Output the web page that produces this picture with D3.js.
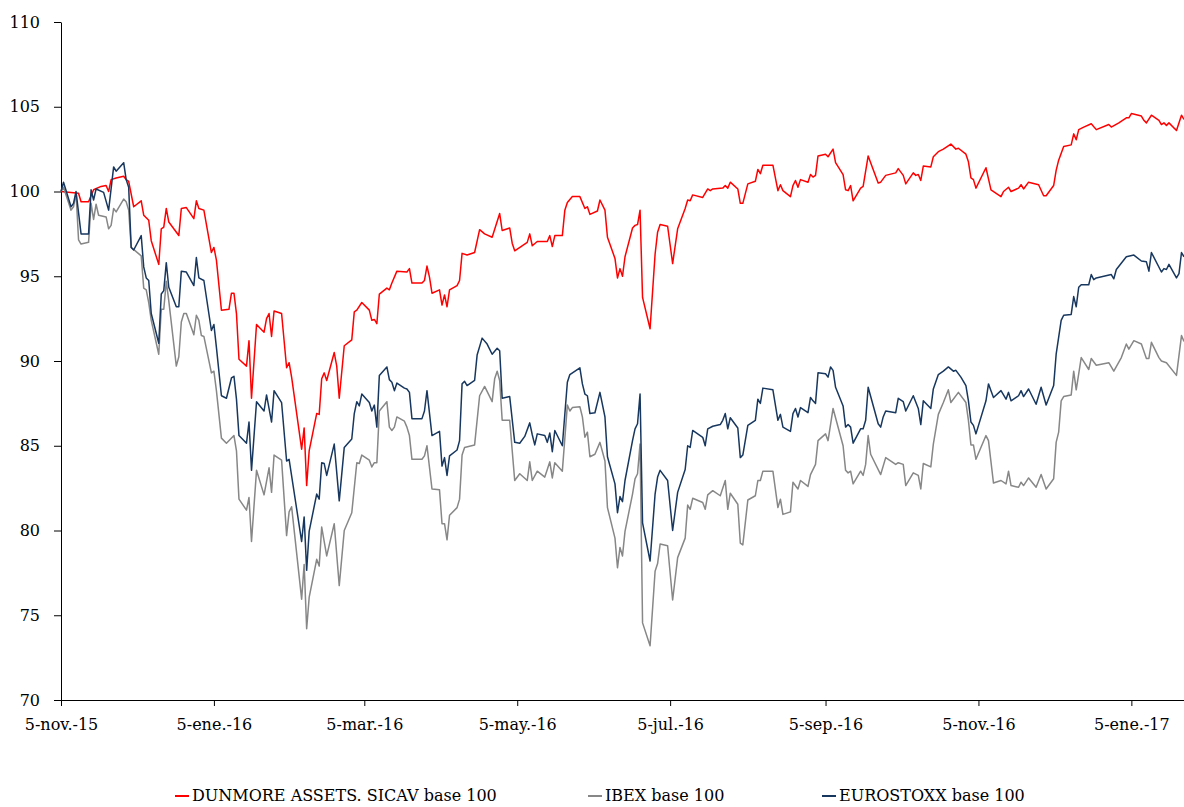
<!DOCTYPE html>
<html>
<head>
<meta charset="utf-8">
<script src="https://cdn.jsdelivr.net/npm/d3@7"></script>
<style>
  body { margin: 0; background: #fff; }
</style>
</head>
<body>
<div id="chart-container"></div>
<script>
// series names and colours
const seriesNames = ["DUNMORE ASSETS. SICAV base 100", "IBEX base 100", "EUROSTOXX base 100"];
const seriesColors = ["#ff0000", "#878787", "#17375e"];

// y axis ticks
const yTicks = [70, 75, 80, 85, 90, 95, 100, 105, 110];

// x axis ticks (every two months, on the 5th)
const xTickDates = ["2015-11-05", "2016-01-05", "2016-03-05", "2016-05-05", "2016-07-05", "2016-09-05", "2016-11-05", "2017-01-05"];
const xTickLabels = ["5-nov.-15", "5-ene.-16", "5-mar.-16", "5-may.-16", "5-jul.-16", "5-sep.-16", "5-nov.-16", "5-ene.-17"];

const dateStart = "2015-11-05";
const dateEnd = "2017-01-26";

// DUNMORE ASSETS. SICAV base 100
const dunmore = [
  ["2015-11-05",100.0],["2015-11-12",99.9],["2015-11-13",99.4],["2015-11-16",99.4],["2015-11-18",100.1],["2015-11-21",100.3],
  ["2015-11-23",100.35],["2015-11-24",100.0],["2015-11-25",100.7],["2015-11-27",100.8],["2015-11-30",100.9],["2015-12-01",100.7],
  ["2015-12-02",100.6],["2015-12-04",99.1],["2015-12-07",99.45],["2015-12-08",98.6],["2015-12-10",98.3],["2015-12-11",97.1],
  ["2015-12-14",95.7],["2015-12-15",97.8],["2015-12-16",97.9],["2015-12-17",99.0],["2015-12-18",98.2],["2015-12-22",97.4],
  ["2015-12-23",99.0],["2015-12-25",99.05],["2015-12-28",98.4],["2015-12-29",99.45],["2015-12-30",99.0],["2016-01-01",98.9],
  ["2016-01-04",96.4],["2016-01-05",96.7],["2016-01-06",95.95],["2016-01-08",93.0],["2016-01-11",93.05],["2016-01-12",94.0],
  ["2016-01-13",94.0],["2016-01-14",92.8],["2016-01-15",90.1],["2016-01-18",89.7],["2016-01-19",91.2],["2016-01-20",87.8],
  ["2016-01-22",92.15],["2016-01-25",91.7],["2016-01-26",92.5],["2016-01-27",92.8],["2016-01-28",91.45],["2016-01-29",92.95],
  ["2016-02-01",92.8],["2016-02-03",89.6],["2016-02-04",89.9],["2016-02-05",89.05],["2016-02-09",84.8],["2016-02-10",86.05],
  ["2016-02-11",82.65],["2016-02-12",84.7],["2016-02-15",86.9],["2016-02-16",86.85],["2016-02-17",88.95],["2016-02-18",89.3],
  ["2016-02-19",88.85],["2016-02-22",90.5],["2016-02-23",89.7],["2016-02-24",87.8],["2016-02-26",90.9],["2016-02-29",91.25],
  ["2016-03-01",92.9],["2016-03-02",93.0],["2016-03-04",93.45],["2016-03-07",93.0],["2016-03-08",92.4],["2016-03-09",92.45],
  ["2016-03-10",92.2],["2016-03-11",93.95],["2016-03-14",94.3],["2016-03-15",94.2],["2016-03-16",94.6],["2016-03-18",95.3],
  ["2016-03-22",95.25],["2016-03-23",95.45],["2016-03-24",94.6],["2016-03-28",94.6],["2016-03-29",94.75],["2016-03-30",95.6],
  ["2016-03-31",94.95],["2016-04-01",94.0],["2016-04-04",94.2],["2016-04-05",93.3],["2016-04-06",93.9],["2016-04-07",93.2],
  ["2016-04-08",94.2],["2016-04-11",94.45],["2016-04-12",94.75],["2016-04-13",96.35],["2016-04-15",96.25],["2016-04-18",96.4],
  ["2016-04-20",97.75],["2016-04-22",97.5],["2016-04-25",97.3],["2016-04-28",98.7],["2016-04-29",97.7],["2016-05-02",97.85],
  ["2016-05-03",96.95],["2016-05-04",96.5],["2016-05-09",97.0],["2016-05-10",97.5],["2016-05-11",96.8],["2016-05-13",97.05],
  ["2016-05-17",97.05],["2016-05-18",97.4],["2016-05-19",96.75],["2016-05-20",97.4],["2016-05-23",97.4],["2016-05-24",98.9],
  ["2016-05-25",99.35],["2016-05-27",99.7],["2016-05-30",99.7],["2016-06-01",99.0],["2016-06-02",99.1],["2016-06-03",98.65],
  ["2016-06-06",98.85],["2016-06-07",99.5],["2016-06-09",98.9],["2016-06-10",97.3],["2016-06-13",96.05],["2016-06-14",94.9],
  ["2016-06-15",95.45],["2016-06-16",95.0],["2016-06-17",96.15],["2016-06-20",97.85],["2016-06-21",98.0],["2016-06-22",98.05],
  ["2016-06-23",98.9],["2016-06-24",93.75],["2016-06-27",91.9],["2016-06-29",96.3],["2016-06-30",97.6],["2016-07-01",98.05],
  ["2016-07-04",97.95],["2016-07-06",95.75],["2016-07-08",97.8],["2016-07-11",99.0],["2016-07-12",99.5],["2016-07-13",99.45],
  ["2016-07-14",99.8],["2016-07-18",99.65],["2016-07-20",100.15],["2016-07-21",100.05],["2016-07-22",100.15],["2016-07-26",100.2],
  ["2016-07-27",100.35],["2016-07-28",100.2],["2016-07-29",100.55],["2016-08-01",100.15],["2016-08-02",99.3],["2016-08-03",99.3],
  ["2016-08-05",100.45],["2016-08-08",100.6],["2016-08-09",101.3],["2016-08-10",101.05],["2016-08-11",101.55],["2016-08-15",101.55],
  ["2016-08-17",100.05],["2016-08-18",100.4],["2016-08-19",100.05],["2016-08-22",99.7],["2016-08-23",100.35],["2016-08-24",100.65],
  ["2016-08-25",100.25],["2016-08-26",100.7],["2016-08-29",100.55],["2016-08-30",101.0],["2016-08-31",100.85],["2016-09-01",100.95],
  ["2016-09-02",102.1],["2016-09-05",102.2],["2016-09-06",102.05],["2016-09-08",102.5],["2016-09-09",101.7],["2016-09-12",101.0],
  ["2016-09-13",100.1],["2016-09-14",100.05],["2016-09-15",100.35],["2016-09-16",99.45],["2016-09-19",100.2],["2016-09-20",100.3],
  ["2016-09-22",102.1],["2016-09-26",100.5],["2016-09-27",100.55],["2016-09-29",100.95],["2016-10-03",101.1],["2016-10-04",101.35],
  ["2016-10-06",100.95],["2016-10-07",100.45],["2016-10-10",101.1],["2016-10-11",100.95],["2016-10-12",101.0],["2016-10-13",100.65],
  ["2016-10-14",101.5],["2016-10-17",101.45],["2016-10-18",102.05],["2016-10-20",102.35],["2016-10-22",102.5],["2016-10-25",102.8],
  ["2016-10-27",102.5],["2016-10-28",102.55],["2016-10-31",102.2],["2016-11-01",101.75],["2016-11-02",100.8],["2016-11-03",100.7],
  ["2016-11-04",100.2],["2016-11-08",101.4],["2016-11-10",100.1],["2016-11-14",99.7],["2016-11-15",100.0],["2016-11-17",100.25],
  ["2016-11-18",100.0],["2016-11-21",100.2],["2016-11-22",100.4],["2016-11-23",100.15],["2016-11-25",100.55],["2016-11-29",100.4],
  ["2016-12-01",99.75],["2016-12-02",99.75],["2016-12-05",100.35],["2016-12-06",101.25],["2016-12-07",101.85],["2016-12-09",102.65],
  ["2016-12-12",102.75],["2016-12-13",103.4],["2016-12-14",103.05],["2016-12-15",103.65],["2016-12-17",103.8],["2016-12-20",104.0],
  ["2016-12-22",103.65],["2016-12-27",103.95],["2016-12-28",103.8],["2016-12-31",104.05],["2017-01-03",104.35],["2017-01-04",104.35],
  ["2017-01-05",104.6],["2017-01-09",104.45],["2017-01-10",104.2],["2017-01-11",104.05],["2017-01-13",104.5],["2017-01-16",104.2],
  ["2017-01-17",103.95],["2017-01-18",104.05],["2017-01-19",103.9],["2017-01-20",104.05],["2017-01-23",103.6],["2017-01-25",104.5],
  ["2017-01-26",104.25]
];

// IBEX base 100
const ibex = [
  ["2015-11-05",100.0],["2015-11-06",100.25],["2015-11-09",98.9],["2015-11-10",99.1],["2015-11-11",99.9],["2015-11-12",97.15],
  ["2015-11-13",96.9],["2015-11-16",97.0],["2015-11-17",99.3],["2015-11-18",98.35],["2015-11-19",99.25],["2015-11-20",98.6],
  ["2015-11-23",98.5],["2015-11-24",97.8],["2015-11-25",98.0],["2015-11-26",99.0],["2015-11-27",98.8],["2015-11-30",99.55],
  ["2015-12-01",99.4],["2015-12-02",98.9],["2015-12-03",96.7],["2015-12-07",96.2],["2015-12-08",94.3],["2015-12-09",94.2],
  ["2015-12-10",93.45],["2015-12-11",92.4],["2015-12-14",90.4],["2015-12-15",93.05],["2015-12-16",93.05],["2015-12-17",94.7],
  ["2015-12-18",93.55],["2015-12-21",89.7],["2015-12-22",90.25],["2015-12-23",92.3],["2015-12-24",92.8],["2015-12-25",92.8],
  ["2015-12-28",91.55],["2015-12-29",92.7],["2015-12-30",92.4],["2015-12-31",91.5],["2016-01-01",91.45],["2016-01-04",89.3],
  ["2016-01-05",89.4],["2016-01-06",88.25],["2016-01-08",85.45],["2016-01-10",85.15],["2016-01-13",85.6],["2016-01-14",84.7],
  ["2016-01-15",81.85],["2016-01-18",81.2],["2016-01-19",81.95],["2016-01-20",79.35],["2016-01-22",83.55],["2016-01-25",82.1],
  ["2016-01-27",83.7],["2016-01-28",82.25],["2016-01-29",84.45],["2016-02-01",84.15],["2016-02-03",79.7],["2016-02-04",81.1],
  ["2016-02-05",81.4],["2016-02-09",75.95],["2016-02-10",78.0],["2016-02-11",74.2],["2016-02-12",76.05],["2016-02-15",78.3],
  ["2016-02-16",77.9],["2016-02-17",80.2],["2016-02-19",78.5],["2016-02-22",80.4],["2016-02-24",76.75],["2016-02-26",80.0],
  ["2016-02-29",81.05],["2016-03-02",84.0],["2016-03-03",83.95],["2016-03-04",84.45],["2016-03-07",84.15],["2016-03-08",83.75],
  ["2016-03-09",84.0],["2016-03-10",84.0],["2016-03-11",87.05],["2016-03-14",87.6],["2016-03-15",86.1],["2016-03-16",85.9],
  ["2016-03-17",86.1],["2016-03-18",86.7],["2016-03-21",86.45],["2016-03-22",86.1],["2016-03-23",85.6],["2016-03-24",84.2],
  ["2016-03-28",84.2],["2016-03-29",84.4],["2016-03-30",85.0],["2016-04-01",82.45],["2016-04-04",82.4],["2016-04-05",80.4],
  ["2016-04-06",80.4],["2016-04-07",79.45],["2016-04-08",80.9],["2016-04-11",81.35],["2016-04-12",81.85],["2016-04-13",84.45],
  ["2016-04-14",84.9],["2016-04-18",85.05],["2016-04-20",87.95],["2016-04-22",88.5],["2016-04-25",87.6],["2016-04-26",88.95],
  ["2016-04-27",89.4],["2016-04-28",88.85],["2016-04-29",86.5],["2016-05-02",86.5],["2016-05-04",82.95],["2016-05-06",83.35],
  ["2016-05-09",82.95],["2016-05-10",84.05],["2016-05-11",82.95],["2016-05-13",83.5],["2016-05-16",83.15],["2016-05-17",83.6],
  ["2016-05-18",84.05],["2016-05-19",83.1],["2016-05-20",84.0],["2016-05-23",83.5],["2016-05-25",87.4],["2016-05-26",87.05],
  ["2016-05-27",87.25],["2016-05-30",87.3],["2016-05-31",86.7],["2016-06-01",85.5],["2016-06-02",85.8],["2016-06-03",84.35],
  ["2016-06-05",84.5],["2016-06-07",85.2],["2016-06-09",84.1],["2016-06-10",81.35],["2016-06-13",79.55],["2016-06-14",77.8],
  ["2016-06-15",79.0],["2016-06-16",78.5],["2016-06-17",79.95],["2016-06-20",82.15],["2016-06-21",83.05],["2016-06-22",83.35],
  ["2016-06-23",85.1],["2016-06-24",74.55],["2016-06-27",73.2],["2016-06-29",77.6],["2016-06-30",78.05],["2016-07-01",79.2],
  ["2016-07-04",79.1],["2016-07-06",75.9],["2016-07-08",78.4],["2016-07-11",79.55],["2016-07-12",81.5],["2016-07-13",81.25],
  ["2016-07-14",81.9],["2016-07-18",81.65],["2016-07-19",81.25],["2016-07-20",82.1],["2016-07-22",82.35],["2016-07-25",82.05],
  ["2016-07-27",82.95],["2016-07-28",81.25],["2016-07-29",82.2],["2016-08-01",81.55],["2016-08-02",79.25],["2016-08-03",79.15],
  ["2016-08-05",81.8],["2016-08-08",82.05],["2016-08-09",82.95],["2016-08-10",82.95],["2016-08-11",83.5],["2016-08-15",83.5],
  ["2016-08-17",81.35],["2016-08-18",81.85],["2016-08-19",80.95],["2016-08-22",81.1],["2016-08-23",82.85],["2016-08-25",82.45],
  ["2016-08-26",82.95],["2016-08-29",82.6],["2016-08-30",83.3],["2016-09-01",83.9],["2016-09-02",85.3],["2016-09-05",85.7],
  ["2016-09-06",85.3],["2016-09-08",87.2],["2016-09-12",85.0],["2016-09-13",83.55],["2016-09-14",83.4],["2016-09-15",83.5],
  ["2016-09-16",82.75],["2016-09-19",83.5],["2016-09-20",83.25],["2016-09-21",83.9],["2016-09-22",85.6],["2016-09-23",84.5],
  ["2016-09-27",83.3],["2016-09-29",84.3],["2016-10-03",83.9],["2016-10-04",84.0],["2016-10-06",83.9],["2016-10-07",82.65],
  ["2016-10-10",83.4],["2016-10-12",83.25],["2016-10-13",82.45],["2016-10-14",83.95],["2016-10-17",83.75],["2016-10-18",85.1],
  ["2016-10-20",86.85],["2016-10-22",87.55],["2016-10-24",88.3],["2016-10-25",87.55],["2016-10-28",88.15],["2016-10-31",87.55],
  ["2016-11-01",86.5],["2016-11-02",85.05],["2016-11-03",85.05],["2016-11-04",84.2],["2016-11-08",85.6],["2016-11-09",85.3],
  ["2016-11-11",82.8],["2016-11-14",82.95],["2016-11-16",82.75],["2016-11-17",83.5],["2016-11-18",82.65],["2016-11-21",82.55],
  ["2016-11-22",82.85],["2016-11-23",82.65],["2016-11-25",83.1],["2016-11-28",82.55],["2016-11-30",83.3],["2016-12-02",82.45],
  ["2016-12-05",83.05],["2016-12-06",85.2],["2016-12-07",85.8],["2016-12-08",87.65],["2016-12-09",87.9],["2016-12-12",88.0],
  ["2016-12-13",89.4],["2016-12-14",88.3],["2016-12-16",90.2],["2016-12-19",89.5],["2016-12-20",90.15],["2016-12-22",89.75],
  ["2016-12-27",89.9],["2016-12-29",89.4],["2017-01-01",90.2],["2017-01-03",91.0],["2017-01-04",90.7],["2017-01-06",91.2],
  ["2017-01-09",91.0],["2017-01-11",90.15],["2017-01-12",90.15],["2017-01-13",91.1],["2017-01-16",90.2],["2017-01-17",90.0],
  ["2017-01-19",89.9],["2017-01-23",89.15],["2017-01-25",91.5],["2017-01-26",91.15]
];

// EUROSTOXX base 100
const eurostoxx = [
  ["2015-11-05",100.0],["2015-11-06",100.55],["2015-11-09",99.1],["2015-11-10",99.3],["2015-11-11",100.0],["2015-11-13",97.5],
  ["2015-11-16",97.5],["2015-11-17",100.1],["2015-11-18",99.5],["2015-11-19",100.15],["2015-11-22",99.95],["2015-11-24",98.9],
  ["2015-11-26",101.45],["2015-11-27",101.2],["2015-11-30",101.7],["2015-12-01",100.7],["2015-12-02",100.25],["2015-12-03",96.7],
  ["2015-12-04",96.55],["2015-12-07",97.4],["2015-12-08",95.55],["2015-12-09",94.9],["2015-12-10",94.75],["2015-12-11",92.8],
  ["2015-12-14",91.05],["2015-12-15",93.95],["2015-12-16",94.15],["2015-12-17",95.8],["2015-12-18",94.35],["2015-12-21",93.2],
  ["2015-12-22",93.2],["2015-12-23",95.3],["2015-12-25",95.25],["2015-12-28",94.45],["2015-12-29",96.1],["2015-12-30",94.9],
  ["2016-01-01",94.75],["2016-01-04",91.8],["2016-01-05",92.15],["2016-01-06",90.8],["2016-01-08",87.95],["2016-01-10",87.8],
  ["2016-01-12",89.0],["2016-01-13",89.1],["2016-01-14",87.75],["2016-01-15",85.6],["2016-01-18",85.15],["2016-01-19",86.4],
  ["2016-01-20",83.55],["2016-01-22",87.6],["2016-01-25",87.05],["2016-01-26",88.0],["2016-01-28",86.4],["2016-01-29",88.25],
  ["2016-02-01",87.55],["2016-02-03",84.1],["2016-02-04",84.2],["2016-02-09",79.35],["2016-02-10",80.8],["2016-02-11",77.65],
  ["2016-02-12",79.95],["2016-02-15",82.15],["2016-02-16",81.85],["2016-02-17",84.0],["2016-02-18",83.95],["2016-02-19",83.25],
  ["2016-02-22",85.1],["2016-02-24",81.75],["2016-02-26",84.9],["2016-02-29",85.4],["2016-03-01",86.9],["2016-03-02",87.6],
  ["2016-03-03",87.35],["2016-03-04",88.05],["2016-03-07",87.55],["2016-03-08",87.05],["2016-03-09",87.4],["2016-03-10",86.1],
  ["2016-03-11",89.15],["2016-03-14",89.65],["2016-03-15",88.9],["2016-03-16",88.75],["2016-03-17",88.25],["2016-03-18",88.7],
  ["2016-03-21",88.4],["2016-03-22",88.35],["2016-03-23",88.15],["2016-03-24",86.6],["2016-03-28",86.6],["2016-03-29",87.05],
  ["2016-03-30",88.25],["2016-04-01",85.6],["2016-04-04",85.85],["2016-04-05",83.8],["2016-04-06",84.3],["2016-04-07",83.25],
  ["2016-04-08",84.4],["2016-04-11",84.75],["2016-04-12",85.3],["2016-04-13",88.65],["2016-04-14",88.8],["2016-04-15",88.55],
  ["2016-04-18",88.85],["2016-04-19",90.35],["2016-04-21",91.35],["2016-04-23",91.0],["2016-04-25",90.4],["2016-04-27",90.75],
  ["2016-04-28",90.6],["2016-04-29",87.8],["2016-05-02",87.9],["2016-05-04",85.2],["2016-05-06",85.15],["2016-05-08",85.55],
  ["2016-05-10",86.35],["2016-05-11",85.65],["2016-05-12",85.05],["2016-05-13",85.7],["2016-05-16",85.6],["2016-05-17",85.2],
  ["2016-05-18",85.75],["2016-05-19",84.65],["2016-05-20",85.9],["2016-05-23",85.0],["2016-05-25",88.75],["2016-05-26",89.2],
  ["2016-05-30",89.6],["2016-05-31",88.65],["2016-06-01",88.05],["2016-06-02",87.95],["2016-06-03",86.9],["2016-06-05",86.95],
  ["2016-06-07",88.15],["2016-06-09",86.7],["2016-06-10",84.35],["2016-06-13",82.75],["2016-06-14",81.05],["2016-06-15",82.0],
  ["2016-06-16",81.7],["2016-06-17",82.95],["2016-06-20",85.3],["2016-06-21",86.0],["2016-06-22",86.3],["2016-06-23",88.05],
  ["2016-06-24",80.45],["2016-06-27",78.2],["2016-06-29",82.15],["2016-06-30",83.15],["2016-07-01",83.55],["2016-07-04",82.95],
  ["2016-07-06",80.0],["2016-07-08",82.25],["2016-07-11",83.6],["2016-07-12",85.0],["2016-07-13",84.9],["2016-07-14",85.9],
  ["2016-07-18",85.5],["2016-07-19",85.0],["2016-07-20",86.0],["2016-07-22",86.15],["2016-07-25",86.25],["2016-07-26",86.5],
  ["2016-07-27",86.9],["2016-07-28",86.0],["2016-07-29",86.65],["2016-08-01",86.05],["2016-08-02",84.3],["2016-08-03",84.45],
  ["2016-08-05",86.2],["2016-08-08",86.5],["2016-08-09",87.75],["2016-08-10",87.5],["2016-08-11",88.4],["2016-08-15",88.3],
  ["2016-08-17",86.5],["2016-08-18",86.85],["2016-08-19",86.1],["2016-08-22",85.85],["2016-08-23",86.9],["2016-08-24",87.2],
  ["2016-08-25",86.7],["2016-08-26",87.25],["2016-08-29",86.95],["2016-08-30",87.85],["2016-08-31",87.65],["2016-09-01",87.5],
  ["2016-09-02",89.3],["2016-09-05",89.25],["2016-09-06",89.05],["2016-09-07",89.65],["2016-09-08",89.45],["2016-09-09",88.45],
  ["2016-09-12",87.35],["2016-09-13",86.1],["2016-09-14",86.25],["2016-09-15",86.1],["2016-09-16",85.15],["2016-09-19",86.0],
  ["2016-09-20",86.0],["2016-09-21",86.5],["2016-09-22",88.45],["2016-09-26",86.3],["2016-09-27",86.1],["2016-09-28",86.7],
  ["2016-09-29",87.05],["2016-10-03",86.95],["2016-10-04",87.8],["2016-10-06",87.6],["2016-10-07",87.05],["2016-10-10",87.95],
  ["2016-10-12",87.2],["2016-10-13",86.25],["2016-10-14",87.65],["2016-10-17",87.2],["2016-10-18",88.35],["2016-10-20",89.2],
  ["2016-10-22",89.4],["2016-10-24",89.65],["2016-10-26",89.4],["2016-10-27",89.45],["2016-10-29",89.05],["2016-10-31",88.55],
  ["2016-11-01",87.65],["2016-11-02",86.4],["2016-11-03",86.2],["2016-11-04",85.7],["2016-11-08",87.65],["2016-11-09",88.65],
  ["2016-11-10",88.25],["2016-11-11",87.85],["2016-11-14",88.25],["2016-11-16",87.75],["2016-11-17",88.15],["2016-11-18",87.65],
  ["2016-11-21",87.95],["2016-11-22",88.25],["2016-11-23",87.9],["2016-11-25",88.35],["2016-11-28",87.45],["2016-11-30",88.45],
  ["2016-12-02",87.4],["2016-12-05",88.55],["2016-12-06",90.4],["2016-12-08",92.4],["2016-12-09",92.7],["2016-12-12",92.75],
  ["2016-12-13",93.8],["2016-12-14",93.2],["2016-12-15",94.35],["2016-12-16",94.5],["2016-12-19",94.5],["2016-12-20",95.1],
  ["2016-12-21",94.8],["2016-12-22",94.9],["2016-12-28",95.1],["2016-12-29",94.85],["2016-12-30",95.4],["2017-01-03",96.15],
  ["2017-01-06",96.25],["2017-01-09",95.9],["2017-01-11",95.85],["2017-01-12",95.3],["2017-01-13",96.4],["2017-01-17",95.25],
  ["2017-01-18",95.45],["2017-01-19",95.4],["2017-01-20",95.7],["2017-01-23",94.9],["2017-01-24",95.15],["2017-01-25",96.4],
  ["2017-01-26",96.15]
];

// setting dimensions and margins for the chart
const margin = { top: 22, right: 0, bottom: 107, left: 61 };
const width = 1184 - margin.left - margin.right;
const height = 807 - margin.top - margin.bottom;
const fontFamily = "'DejaVu Serif', 'Liberation Serif', serif";

const parseDate = d3.timeParse("%Y-%m-%d");

// turn the pairs into objects with real dates
const allSeries = [dunmore, ibex, eurostoxx].map((rows, i) => ({
  name: seriesNames[i],
  color: seriesColors[i],
  values: rows.map(([date, value]) => ({ date: parseDate(date), value: value })),
}));

// x and y scales
const xScale = d3
  .scaleTime()
  .domain([parseDate(dateStart), parseDate(dateEnd)])
  .range([0, width]);

const yScale = d3
  .scaleLinear()
  .domain([d3.min(yTicks), d3.max(yTicks)])
  .range([height, 0]);

// svg element
const svgRoot = d3
  .select("#chart-container")
  .append("svg")
  .attr("width", width + margin.left + margin.right)
  .attr("height", height + margin.top + margin.bottom);

const svg = svgRoot
  .append("g")
  .attr("transform", `translate(${margin.left}, ${margin.top})`);

// axes
const xAxis = d3
  .axisBottom(xScale)
  .tickValues(xTickDates.map(parseDate))
  .tickFormat((d, i) => xTickLabels[i])
  .tickSize(6)
  .tickSizeOuter(0)
  .tickPadding(13);

const yAxis = d3
  .axisLeft(yScale)
  .tickValues(yTicks)
  .tickFormat((d) => d)
  .tickSize(7)
  .tickSizeOuter(0)
  .tickPadding(14);

svg
  .append("g")
  .attr("class", "y-axis")
  .call(yAxis)
  .call((g) => g.selectAll("text").attr("font-family", fontFamily).attr("font-size", 16).attr("fill", "#000"))
  .call((g) => g.selectAll("line, path").attr("stroke", "#000"));

svg
  .append("g")
  .attr("class", "x-axis")
  .attr("transform", `translate(0, ${height})`)
  .call(xAxis)
  .call((g) => g.selectAll("text").attr("font-family", fontFamily).attr("font-size", 16).attr("fill", "#000"))
  .call((g) => g.selectAll("line, path").attr("stroke", "#000"));

// line generator
const line = d3
  .line()
  .x((d) => xScale(d.date))
  .y((d) => yScale(d.value));

// draw the lines (eurostoxx last so it sits on top)
svg
  .selectAll(".series")
  .data(allSeries)
  .join("path")
  .attr("class", "series")
  .attr("fill", "none")
  .attr("stroke", (d) => d.color)
  .attr("stroke-width", 1.5)
  .attr("stroke-linejoin", "round")
  .attr("d", (d) => line(d.values));

// legend at the bottom (kept just inside the bottom edge)
const legendX = [175, 588, 822];
const legend = svgRoot
  .append("g")
  .attr("class", "legend")
  .attr("transform", "translate(0, 796)");

const legendItem = legend
  .selectAll("g")
  .data(allSeries)
  .join("g")
  .attr("transform", (d, i) => `translate(${legendX[i]}, 0)`);

legendItem
  .append("line")
  .attr("x1", 0)
  .attr("x2", 14)
  .attr("y1", 0)
  .attr("y2", 0)
  .attr("stroke", (d) => d.color)
  .attr("stroke-width", 2);

legendItem
  .append("text")
  .attr("x", 17)
  .attr("y", 5)
  .style("font-family", fontFamily)
  .style("font-size", "16px")
  .attr("fill", "#000")
  .text((d) => d.name);
</script>
</body>
</html>
